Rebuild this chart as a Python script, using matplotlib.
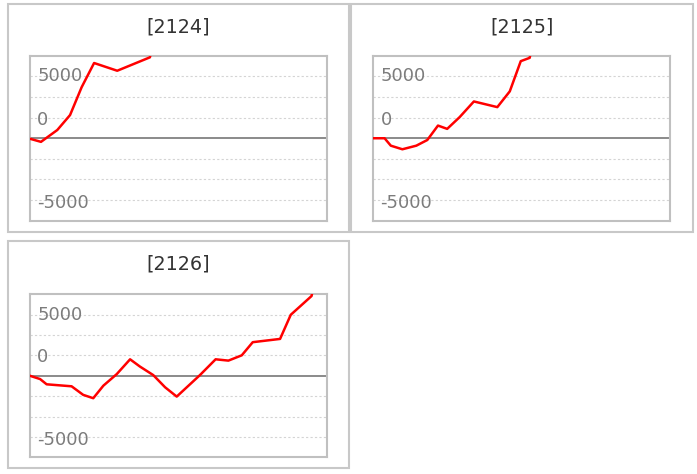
import matplotlib
matplotlib.use("Agg")
import matplotlib.pyplot as plt
from matplotlib.patches import Rectangle

# --- DONNÉES ---
titres = ["[2124]", "[2125]", "[2126]"]

x_2124 = [0, 3.7, 9.2, 13.5, 17.4, 21.6, 29.4, 40.4, 42.0]
y_2124 = [-50, -350, 800, 2250, 4950, 7300, 6550, 7850, 9500]

x_2125 = [0, 3.8, 5.9, 9.8, 14.5, 18.2, 21.8, 24.9, 29.1, 33.9, 41.8, 46.0, 49.7, 52.7, 54.0]
y_2125 = [0, 0, -720, -1070, -720, -170, 1230, 910, 2050, 3570, 3020, 4550, 7480, 7800, 9500]

x_2126 = [0, 3.4, 5.6, 14.0, 17.9, 21.3, 24.7, 29.2, 33.7, 37.0, 41.5, 45.5, 49.4,
          57.2, 62.5, 66.8, 71.3, 75.0, 84.2, 87.8, 94.8, 96.0]
y_2126 = [0, -320, -835, -1030, -1870, -2200, -970, 165, 1620, 910, 70, -1130, -2040,
          65, 1620, 1490, 2010, 3300, 3620, 5990, 7830, 9500]

etiquettes_y = ["5000", "0", "-5000"]
positions_etiquettes = [6000, 1800, -6300]
grille = [-6000, -4000, -2000, 2000, 4000, 6000]

W, H = 697, 474

# cadres extérieurs (px : gauche, haut, droite, bas)
cadres = [(7.7, 4.3, 349, 231.7), (351, 4.3, 692.7, 231.7), (7.7, 241, 349, 468)]
# zones de tracé (px)
zones = [(30, 55.8, 326.7, 220.7), (373.3, 55.8, 670, 220.7), (30, 294.3, 327, 457.3)]
series = [(x_2124, y_2124), (x_2125, y_2125), (x_2126, y_2126)]


def px_rect(x0, y0, x1, y1):
    return [x0 / W, 1 - y1 / H, (x1 - x0) / W, (y1 - y0) / H]


fig = plt.figure(figsize=(W / 100, H / 100), dpi=100)

for titre, cadre, zone, (xs, ys) in zip(titres, cadres, zones, series):
    # cadre du panneau
    gx, gy, gw, gh = px_rect(*cadre)
    fig.add_artist(Rectangle((gx, gy), gw, gh, transform=fig.transFigure,
                             fill=False, ec="#c8c8c8", lw=1.5))

    ax = fig.add_axes(px_rect(*zone))
    ax.set_xlim(0, 100)
    ax.set_ylim(-8000, 8000)
    ax.set_xticks([])
    ax.set_yticks([])
    for s in ax.spines.values():
        s.set_color("#c0c0c0")
        s.set_linewidth(1.5)

    for g in grille:
        ax.axhline(g, color="#d4d4d4", lw=0.8, linestyle=(0, (2, 2)), zorder=1)
    ax.axhline(0, color="#8a8a8a", lw=1.4, zorder=2)

    for lab, pos in zip(etiquettes_y, positions_etiquettes):
        ax.text(0.024, pos, lab, transform=ax.get_yaxis_transform(),
                ha="left", va="center", fontsize=13, color="#7c7c7c", zorder=3)

    ax.plot(xs, ys, color="#ff0000", lw=1.8, zorder=4)

    # titre centré sur la zone de tracé
    cx = (zone[0] + zone[2]) / 2
    ty = cadre[1] + 23
    fig.text(cx / W, 1 - ty / H, titre, ha="center", va="center",
             fontsize=13.8, color="#333333")

fig.savefig("out.png", dpi=100)
plt.close(fig)
